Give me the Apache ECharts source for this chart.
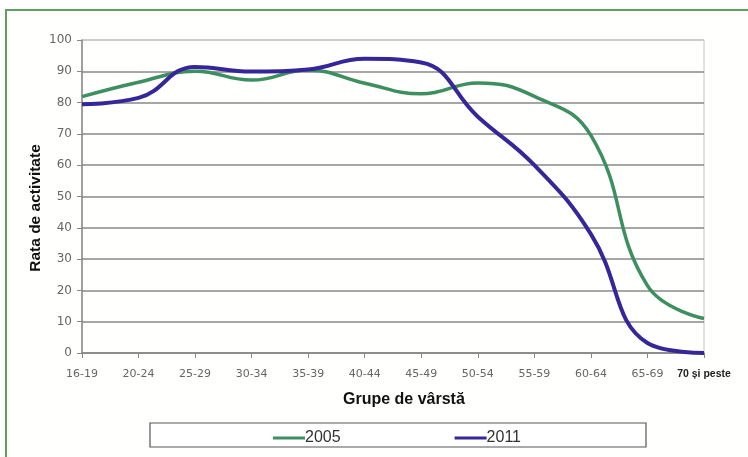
<!DOCTYPE html>
<html>
<head>
<meta charset="utf-8">
<script src="https://cdn.jsdelivr.net/npm/echarts@6/dist/echarts.min.js"></script>
<style>
  html, body { margin: 0; padding: 0; background: #fff; }
  #chart { width: 748px; height: 457px; }
</style>
</head>
<body>
<div id="chart"></div>
<script>
// age groups and activity rates (%)
var categories = ['16-19', '20-24', '25-29', '30-34', '35-39', '40-44', '45-49', '50-54', '55-59', '60-64', '65-69', '70 și peste'];
var rate2005 = [81.9, 86.5, 90, 87.2, 90.4, 86.2, 82.8, 86.3, 82, 69.5, 21.5, 11];
var rate2011 = [79.5, 81.5, 91.4, 89.9, 90.6, 94, 92.8, 75.5, 60, 38, 3.2, 0];
var yTicks = [0, 10, 20, 30, 40, 50, 60, 70, 80, 90, 100];

var green = '#3d8f5f';
var blue = '#35279a';

var myChart = echarts.init(document.getElementById('chart'));

var option = {
    backgroundColor: '#fff',
    animation: false,
    textStyle: { fontFamily: 'DejaVu Sans' },
    graphic: [
        {
            type: 'rect', z: -10,
            shape: { x: 6, y: 10, width: 780, height: 480 },
            style: { fill: '#fffffd', stroke: '#5f9f5f', lineWidth: 2 }
        },
        {
            type: 'rect', z: 1,
            shape: { x: 150, y: 423, width: 496, height: 24 },
            style: { fill: '#fff', stroke: '#555', lineWidth: 1.2 }
        },
        {
            type: 'text', left: 343, top: 392,
            style: { text: 'Grupe de vârstă', font: 'bold 16px "Liberation Sans"', fill: '#111' }
        },
        {
            type: 'text', x: 36, y: 208, rotation: Math.PI / 2,
            style: { text: 'Rata de activitate', font: 'bold 15.5px "Liberation Sans"', fill: '#111', align: 'center', verticalAlign: 'middle' }
        }
    ],
    legend: {
        left: 268, top: 425, z: 5,
        icon: 'rect', itemWidth: 32, itemHeight: 3, itemGap: 114,
        textStyle: { fontFamily: 'Liberation Sans', fontSize: 16, color: '#333', padding: [0, 0, 0, -5] },
        data: ['2005', '2011']
    },
    grid: {
        left: 82, right: 44, top: 40, bottom: 104,
        show: true, borderColor: '#c4c4c4', borderWidth: 1
    },
    xAxis: {
        type: 'category',
        data: categories,
        boundaryGap: false,
        axisLine: { lineStyle: { color: '#888', width: 1.5 } },
        axisTick: { show: true, length: 5, lineStyle: { color: '#888' } },
        axisLabel: {
            margin: 16, fontSize: 11, color: '#666', interval: 0,
            formatter: function (v, i) {
                return i === categories.length - 1 ? '{last|' + v + '}' : v;
            },
            rich: { last: { fontFamily: 'Liberation Sans', fontWeight: 'bold', fontSize: 10.5, color: '#222' } }
        }
    },
    yAxis: {
        type: 'value',
        min: yTicks[0], max: yTicks[yTicks.length - 1], interval: 10,
        axisLine: { show: true, lineStyle: { color: '#888', width: 1.5 } },
        axisTick: { show: true, length: 5, lineStyle: { color: '#888' } },
        axisLabel: { margin: 10, fontSize: 12, color: '#666' },
        splitLine: {
            lineStyle: {
                color: ['#888', '#888', '#888', '#888', '#888', '#888', '#888', '#888', '#888', '#888', '#c4c4c4'],
                width: 1.6
            }
        }
    },
    series: [
        {
            name: '2005', type: 'line', data: rate2005,
            smooth: 0.45, showSymbol: false, z: 3,
            lineStyle: { color: green, width: 3.5 },
            itemStyle: { color: green }
        },
        {
            name: '2011', type: 'line', data: rate2011,
            smooth: 0.45, showSymbol: false, z: 4,
            lineStyle: { color: blue, width: 4 },
            itemStyle: { color: blue }
        }
    ]
};

myChart.setOption(option);
</script>
</body>
</html>
